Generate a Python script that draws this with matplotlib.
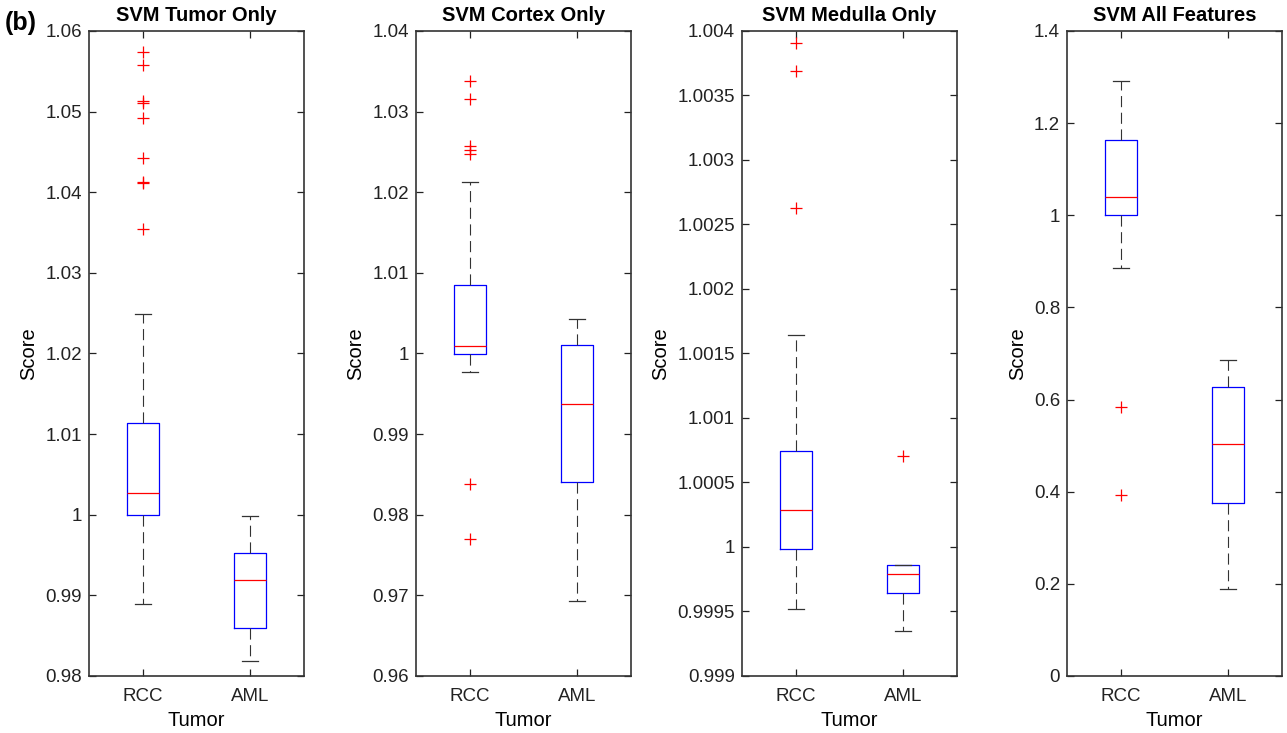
import matplotlib
matplotlib.use('Agg')
import matplotlib.pyplot as plt
from matplotlib.ticker import FuncFormatter
import numpy as np

plt.rcParams['font.family'] = ['Liberation Sans', 'DejaVu Sans']

# Categories
groups = ['RCC', 'AML']
titles = ['SVM Tumor Only', 'SVM Cortex Only', 'SVM Medulla Only', 'SVM All Features']

# Box statistics per panel (RCC, AML)
tumor_med = [1.00264, 0.99187]
tumor_q1 = [1.00000, 0.98601]
tumor_q3 = [1.01143, 0.99521]
tumor_lo = [0.98898, 0.98188]
tumor_hi = [1.02490, 0.99984]
tumor_out = [[1.0574, 1.0558, 1.0513, 1.0511, 1.0492, 1.0443, 1.0413, 1.0411, 1.0354], []]

cortex_med = [1.00087, 0.99376]
cortex_q1 = [0.99992, 0.98410]
cortex_q3 = [1.00847, 1.00099]
cortex_lo = [0.99776, 0.96926]
cortex_hi = [1.02128, 1.00426]
cortex_out = [[1.03384, 1.03161, 1.02574, 1.02525, 1.02475, 0.98377, 0.97700], []]

medulla_med = [1.000283, 0.999793]
medulla_q1 = [0.999987, 0.999641]
medulla_q3 = [1.000747, 0.999858]
medulla_lo = [0.999518, 0.999345]
medulla_hi = [1.001640, 0.999860]
medulla_out = [[1.003904, 1.003689, 1.002628], [1.000703]]

all_med = [1.0399, 0.5025]
all_q1 = [1.0014, 0.3755]
all_q3 = [1.1630, 0.6267]
all_lo = [0.8862, 0.1877]
all_hi = [1.2920, 0.6862]
all_out = [[0.5848, 0.3935], []]

# Axis ranges and tick steps
ylims = [(0.98, 1.06), (0.96, 1.04), (0.999, 1.004), (0.0, 1.4)]
ysteps = [0.01, 0.01, 0.0005, 0.2]

panels = [
    (tumor_med, tumor_q1, tumor_q3, tumor_lo, tumor_hi, tumor_out),
    (cortex_med, cortex_q1, cortex_q3, cortex_lo, cortex_hi, cortex_out),
    (medulla_med, medulla_q1, medulla_q3, medulla_lo, medulla_hi, medulla_out),
    (all_med, all_q1, all_q3, all_lo, all_hi, all_out),
]

fig = plt.figure(figsize=(12.87, 7.33), dpi=100)
lefts = [0.0692, 0.3232, 0.5765, 0.8291]

for i, (med, q1, q3, lo, hi, out) in enumerate(panels):
    ax = fig.add_axes([lefts[i], 0.0778, 0.167, 0.880])
    stats = []
    for j in range(len(groups)):
        stats.append(dict(med=med[j], q1=q1[j], q3=q3[j], whislo=lo[j],
                          whishi=hi[j], fliers=out[j], label=groups[j]))
    ax.bxp(stats, positions=[1, 2], widths=0.3, showfliers=True,
           boxprops=dict(color='blue', linewidth=0.9),
           medianprops=dict(color='red', linewidth=0.9),
           whiskerprops=dict(color='#333333', linewidth=0.8, linestyle=(0, (10, 5))),
           capprops=dict(color='#333333', linewidth=0.9),
           flierprops=dict(marker='+', markeredgecolor='red', markersize=8,
                           markeredgewidth=0.9, linestyle='none'))
    ax.set_xlim(0.5, 2.5)
    y0, y1 = ylims[i]
    ax.set_ylim(y0, y1)
    ax.set_yticks(np.arange(y0, y1 + ysteps[i] / 2, ysteps[i]))
    ax.yaxis.set_major_formatter(FuncFormatter(lambda v, p: f'{v:g}'))
    ax.set_xticks([1, 2])
    ax.set_xticklabels(groups)
    ax.tick_params(direction='in', top=True, right=True, length=5, width=0.9,
                   labelsize=13.5, colors='#222222', pad=5)
    ax.tick_params(axis='x', pad=9)
    for s in ax.spines.values():
        s.set_linewidth(1.2)
        s.set_color('#333333')
    ax.set_title(titles[i], fontsize=14.5, fontweight='bold', pad=7)
    ax.set_ylabel('Score', fontsize=14.5, labelpad=5)
    ax.set_xlabel('Tumor', fontsize=14.5, labelpad=4)

fig.text(0.004, 1 - 30 / 733, '(b)', fontsize=18, fontweight='bold', va='baseline')

fig.savefig('out.png', dpi=100)
